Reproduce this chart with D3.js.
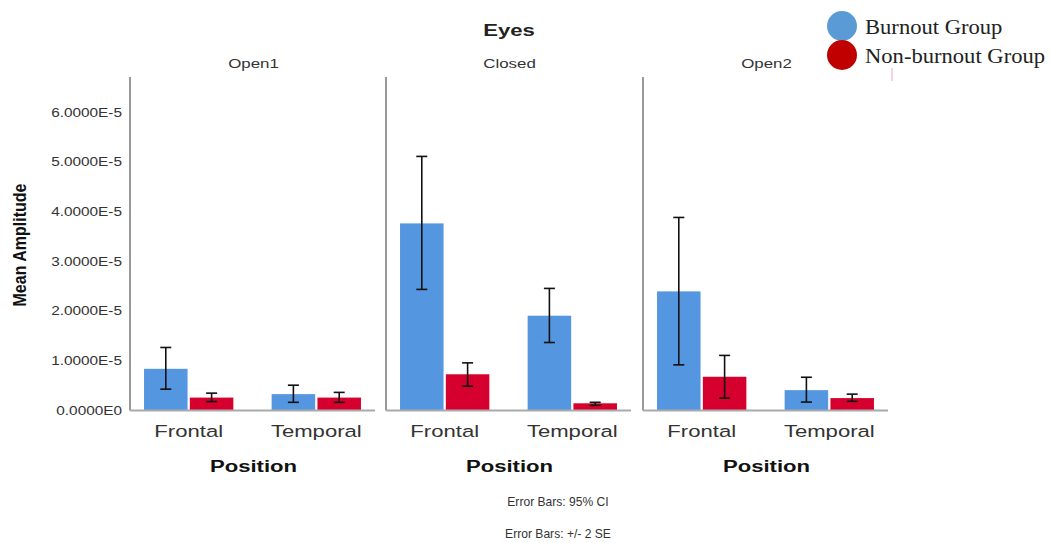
<!DOCTYPE html>
<html>
<head>
<meta charset="utf-8">
<script src="https://cdn.jsdelivr.net/npm/d3@7"></script>
<style>
  html, body { margin: 0; padding: 0; background: #fff; }
  svg { display: block; font-family: "Liberation Sans", Arial, sans-serif; }
</style>
</head>
<body>
<svg id="chart" width="1051" height="543"></svg>
<script>
// Eye condition panels and electrode positions
const panels = ["Open1", "Closed", "Open2"];
const positions = ["Frontal", "Temporal"];
const groups = ["Burnout Group", "Non-burnout Group"];

// Mean amplitude per panel × position (Open1 F, Open1 T, Closed F, Closed T, Open2 F, Open2 T)
const burnoutMean   = [8.4e-6, 3.3e-6, 3.77e-5, 1.91e-5, 2.40e-5, 4.1e-6];
const burnoutLow    = [4.3e-6, 1.65e-6, 2.44e-5, 1.37e-5, 9.2e-6, 1.7e-6];
const burnoutHigh   = [1.27e-5, 5.1e-6, 5.12e-5, 2.46e-5, 3.89e-5, 6.7e-6];
const nonBurnMean   = [2.6e-6, 2.6e-6, 7.3e-6, 1.45e-6, 6.8e-6, 2.5e-6];
const nonBurnLow    = [1.8e-6, 1.65e-6, 4.9e-6, 1.05e-6, 2.5e-6, 1.85e-6];
const nonBurnHigh   = [3.5e-6, 3.65e-6, 9.6e-6, 1.65e-6, 1.11e-5, 3.3e-6];

const yTicks = [0, 1e-5, 2e-5, 3e-5, 4e-5, 5e-5, 6e-5];
const yMax = 6.72e-5;

const colors = { bar: ["#5596e1", "#d6002e"], legend: ["#5b9bd5", "#c00000"] };

const svg = d3.select("#chart");

const panelLeft = [130, 386, 643];
const panelWidth = 245;
const plotTop = 77, plotBottom = 410.5;
const SX = 1.3; // horizontal widening of the sans-serif labels

const y = d3.scaleLinear().domain([0, yMax]).range([plotBottom, plotTop]);

function sciFmt(v) {
  if (v === 0) return "0.0000E0";
  const e = Math.floor(Math.log10(Math.abs(v)) + 1e-9);
  return (v / Math.pow(10, e)).toFixed(4) + "E" + e;
}

// text placed at (x, y) and widened horizontally by sx
function label(parent, x, yy, str, o = {}) {
  return parent.append("text")
    .attr("transform", `translate(${x},${yy}) scale(${o.sx ?? SX},1)`)
    .attr("text-anchor", o.anchor ?? "middle")
    .attr("font-size", o.size ?? 13)
    .attr("font-weight", o.weight ?? "normal")
    .attr("font-family", o.family ?? null)
    .attr("fill", o.fill ?? "#333")
    .text(str);
}

// rows of data for each panel
const rows = [];
panels.forEach((p, pi) => {
  positions.forEach((pos, qi) => {
    const i = pi * positions.length + qi;
    rows.push({ panel: p, pi, pos, group: 0, mean: burnoutMean[i], lo: burnoutLow[i], hi: burnoutHigh[i] });
    rows.push({ panel: p, pi, pos, group: 1, mean: nonBurnMean[i], lo: nonBurnLow[i], hi: nonBurnHigh[i] });
  });
});

// Title
label(svg, 509, 36, "Eyes", { size: 17, weight: "bold", fill: "#222" });

// Y axis tick labels (only on the first panel)
yTicks.forEach(t => label(svg, 122, y(t) + 4, sciFmt(t), { size: 12, anchor: "end", sx: 1.28 }));

svg.append("text")
  .attr("transform", "translate(26,245) rotate(-90) scale(1,1.15)")
  .attr("text-anchor", "middle").attr("font-size", 16).attr("font-weight", "bold").attr("fill", "#111")
  .text("Mean Amplitude");

panels.forEach((p, pi) => {
  const x0 = panelLeft[pi];
  const g = svg.append("g");
  const x = d3.scaleBand().domain(positions).range([x0, x0 + panelWidth])
    .paddingInner(0.3).paddingOuter(0.11);
  const xg = d3.scaleBand().domain([0, 1]).range([0, x.bandwidth()]).paddingInner(0.05);

  // panel title
  label(g, x0 + panelWidth / 2 + 1, 68, p, { size: 13 });

  const data = rows.filter(r => r.pi === pi);

  g.selectAll("rect").data(data).join("rect")
    .attr("x", d => x(d.pos) + xg(d.group))
    .attr("width", xg.bandwidth())
    .attr("y", d => y(d.mean))
    .attr("height", d => y(0) - y(d.mean))
    .attr("fill", d => colors.bar[d.group]);

  // error bars
  const eb = g.selectAll("g.eb").data(data).join("g").attr("class", "eb")
    .attr("transform", d => `translate(${x(d.pos) + xg(d.group) + xg.bandwidth() / 2},0)`);
  eb.append("line").attr("y1", d => y(d.lo)).attr("y2", d => y(d.hi))
    .attr("stroke", "#111").attr("stroke-width", 1.6);
  eb.append("line").attr("x1", -5.5).attr("x2", 5.5).attr("y1", d => y(d.hi)).attr("y2", d => y(d.hi))
    .attr("stroke", "#111").attr("stroke-width", 1.6);
  eb.append("line").attr("x1", -5.5).attr("x2", 5.5).attr("y1", d => y(d.lo)).attr("y2", d => y(d.lo))
    .attr("stroke", "#111").attr("stroke-width", 1.6);

  // axis frame lines
  g.append("line").attr("x1", x0).attr("x2", x0).attr("y1", plotTop).attr("y2", plotBottom)
    .attr("stroke", "#999").attr("stroke-width", 2);
  g.append("line").attr("x1", x0).attr("x2", x0 + panelWidth).attr("y1", plotBottom).attr("y2", plotBottom)
    .attr("stroke", "#aaa").attr("stroke-width", 2);

  // category labels
  positions.forEach(pos => label(g, x(pos) + x.bandwidth() / 2, 437, pos, { size: 17 }));

  label(g, x0 + panelWidth / 2 + 1, 472, "Position", { size: 17, weight: "bold", fill: "#111" });
});

// footnotes
label(svg, 558, 506, "Error Bars: 95% CI", { size: 13, sx: 0.93 });
label(svg, 558, 538, "Error Bars: +/- 2 SE", { size: 13, sx: 0.93 });

// legend
const leg = svg.append("g");
groups.forEach((gname, i) => {
  leg.append("circle").attr("cx", 842).attr("cy", 26 + i * 29).attr("r", 15).attr("fill", colors.legend[i]);
  label(leg, 865, 34 + i * 29, gname, {
    size: 20, sx: 1.13, anchor: "start", fill: "#222",
    family: "'Liberation Serif', 'Times New Roman', serif"
  });
});
leg.append("line").attr("x1", 892).attr("x2", 892).attr("y1", 68).attr("y2", 81)
  .attr("stroke", "#f4a6b8").attr("stroke-width", 1);
</script>
</body>
</html>
